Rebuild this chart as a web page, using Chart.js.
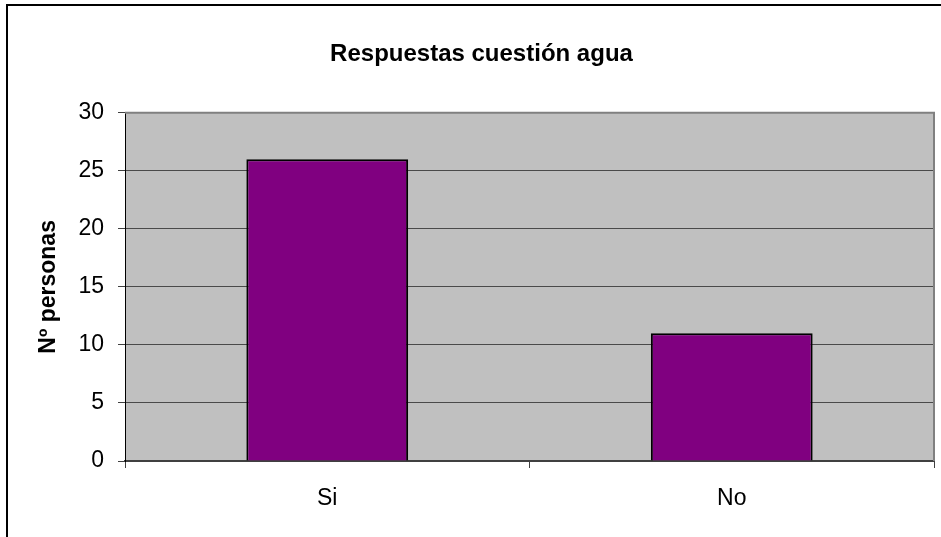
<!DOCTYPE html>
<html>
<head>
<meta charset="utf-8">
<script src="https://cdn.jsdelivr.net/npm/chart.js@4/dist/chart.umd.min.js"></script>
<style>
    html, body { margin: 0; padding: 0; background: #ffffff; }
    #wrap { width: 941px; height: 537px; }
</style>
</head>
<body>
<div id="wrap"><canvas id="myChart" width="941" height="537"></canvas></div>
<script>
'use strict';

// data
const categories = ['Si', 'No'];
const personas = [26, 11];
const yTicks = [0, 5, 10, 15, 20, 25, 30];

const chartTitle = 'Respuestas cuestión agua';
const yTitle = 'Nº personas';

/* frame round the whole chart and grey plot area */
const plotBackground = {
    id: 'plotBackground',
    beforeDraw(chart) {
        const ctx = chart.ctx;
        const a = chart.chartArea;
        ctx.save();
        ctx.fillStyle = '#ffffff';
        ctx.fillRect(0, 0, chart.width, chart.height);
        ctx.strokeStyle = '#000000';
        ctx.lineWidth = 2;
        ctx.strokeRect(7, 5, chart.width + 20, chart.height + 20);
        ctx.fillStyle = '#c0c0c0';
        ctx.fillRect(a.left, a.top, a.right - a.left, a.bottom - a.top);
        ctx.restore();
    },
    beforeDatasetsDraw(chart) {
        const ctx = chart.ctx;
        const a = chart.chartArea;
        ctx.save();
        ctx.strokeStyle = '#808080';
        ctx.lineWidth = 2;
        ctx.beginPath();
        ctx.moveTo(a.left, a.top);
        ctx.lineTo(a.right, a.top);
        ctx.lineTo(a.right, a.bottom);
        ctx.stroke();
        ctx.restore();
    }
};

const ctx = document.getElementById('myChart').getContext('2d');

const chart = new Chart(ctx, {
    type: 'bar',
    data: {
        labels: categories,
        datasets: [{
            label: yTitle,
            data: personas,
            backgroundColor: '#800080',
            borderColor: '#000000',
            borderWidth: 2,
            barPercentage: 1,
            categoryPercentage: 0.4
        }]
    },
    options: {
        responsive: false,
        animation: false,
        devicePixelRatio: 1,
        layout: { padding: { left: 29, right: 7, top: 0, bottom: 0 } },
        plugins: {
            legend: { display: false },
            tooltip: { enabled: false },
            title: {
                display: true,
                text: chartTitle,
                color: '#000000',
                font: { family: 'Liberation Sans', size: 24, weight: 'bold' },
                padding: { top: 40, bottom: 44 }
            }
        },
        scales: {
            x: {
                offset: true,
                afterFit(scale) { scale.height = 76; },
                grid: {
                    offset: true,
                    drawOnChartArea: false,
                    drawTicks: true,
                    tickLength: 7,
                    color: '#404040'
                },
                border: { color: '#404040', width: 2 },
                ticks: {
                    color: '#000000',
                    padding: 17,
                    font: { family: 'Liberation Sans', size: 23 }
                }
            },
            y: {
                min: 0,
                max: 30,
                afterFit(scale) { scale.width = 96; },
                afterBuildTicks(scale) {
                    scale.ticks = yTicks.map(v => ({ value: v }));
                },
                grid: {
                    color: ctx => ctx.tick && ctx.tick.value === 30 ? 'rgba(0,0,0,0)' : '#4a4a4a',
                    tickColor: '#404040',
                    tickLength: 7,
                    lineWidth: 1
                },
                border: { color: '#000000', width: 1 },
                ticks: {
                    color: '#000000',
                    padding: 14,
                    font: { family: 'Liberation Sans', size: 23 }
                },
                title: {
                    display: true,
                    text: yTitle,
                    color: '#000000',
                    font: { family: 'Liberation Sans', size: 23, weight: 'bold' },
                    padding: { top: 6, bottom: 0 }
                }
            }
        }
    },
    plugins: [plotBackground]
});
</script>
</body>
</html>
